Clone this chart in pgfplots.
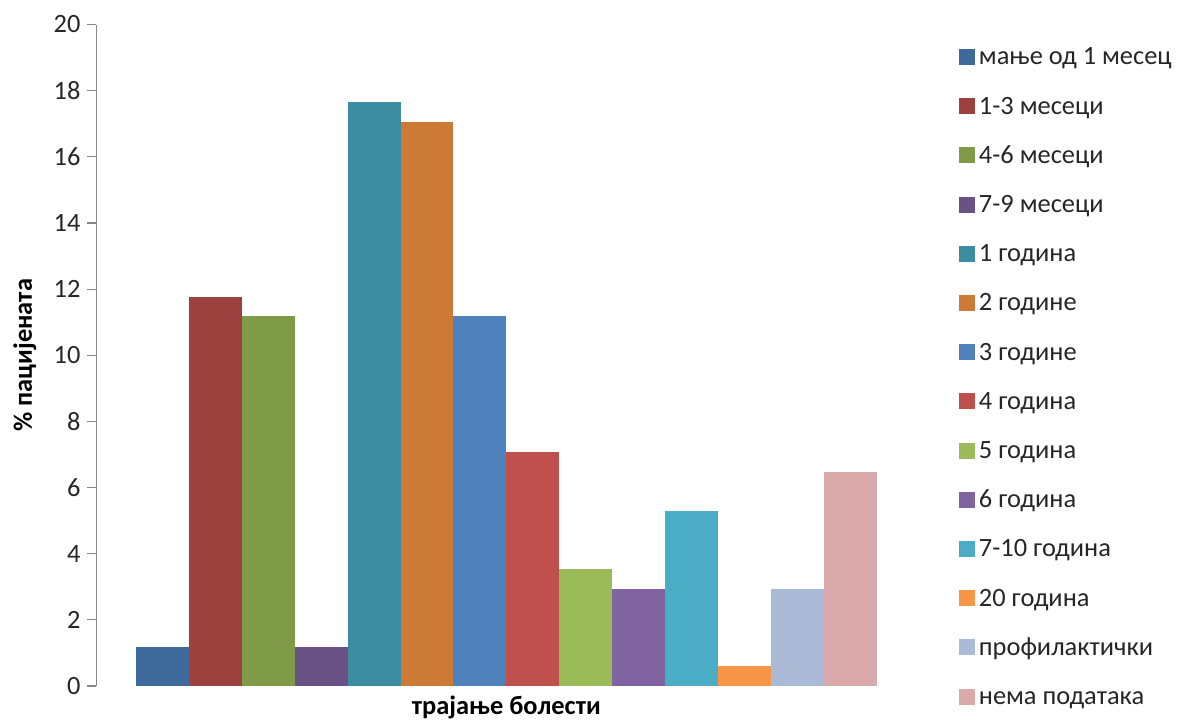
\documentclass[border=0pt]{standalone}
\usepackage{fontspec}
\setmainfont{Carlito}
\usepackage{pgfplots}
\pgfplotsset{compat=1.18}
\definecolor{c1}{HTML}{3D6A9A}
\definecolor{c2}{HTML}{9C413E}
\definecolor{c3}{HTML}{7F9B48}
\definecolor{c4}{HTML}{6A5186}
\definecolor{c5}{HTML}{3C8DA1}
\definecolor{c6}{HTML}{CD7A37}
\definecolor{c7}{HTML}{4F81BD}
\definecolor{c8}{HTML}{C0504D}
\definecolor{c9}{HTML}{9BBB59}
\definecolor{c10}{HTML}{8064A2}
\definecolor{c11}{HTML}{4BACC6}
\definecolor{c12}{HTML}{F79646}
\definecolor{c13}{HTML}{AABAD7}
\definecolor{c14}{HTML}{D9AAA9}
\definecolor{axisgray}{HTML}{868686}
\begin{document}
\begin{tikzpicture}[font=\fontsize{13.2}{15}\selectfont]
\path[use as bounding box] (-48.25pt,-17pt) rectangle (540.75pt,343pt);
\begin{axis}[
  at={(0,0)}, anchor=south west,
  scale only axis, width=409.8pt, height=330.75pt,
  xmin=-1.247, xmax=14.247, ymin=0, ymax=20,
  ytick={0,2,...,20}, xtick=\empty,
  axis lines*=left,
  x axis line style={draw=none},
  y axis line style={draw=axisgray, line width=0.6pt, -},
  ytick style={draw=axisgray, line width=0.6pt},
  major tick length=4.5pt, tick align=outside,
  /pgf/number format/assume math mode=true,
  yticklabel style={font=\fontsize{13.2}{15}\selectfont, text=black!85},
  xlabel={\bfseries трајање болести},
  ylabel={\bfseries \% пацијената},
  every axis x label/.style={at={(axis description cs:0.5,0)}, anchor=base, yshift=-14pt},
  every axis y label/.style={at={(axis description cs:-0.0787,0.5)}, rotate=90, anchor=base},
  legend cell align=left,
  legend image code/.code={\fill[#1,draw=none] (0pt,0pt) rectangle (8pt,8pt);},
  legend style={draw=none, fill=none, at={(1.0523,0.966)}, anchor=north west,
    inner sep=0pt, outer sep=0pt, row sep=12.6pt, column sep=2pt,
    nodes={inner sep=0pt, text height=9pt, text depth=3pt, anchor=base west, text=black!85}},
]
\addplot[ybar, bar width=1, bar shift=0pt, fill=c1, draw=none] coordinates {(0,1.18)};
\addplot[ybar, bar width=1, bar shift=0pt, fill=c2, draw=none] coordinates {(1,11.76)};
\addplot[ybar, bar width=1, bar shift=0pt, fill=c3, draw=none] coordinates {(2,11.18)};
\addplot[ybar, bar width=1, bar shift=0pt, fill=c4, draw=none] coordinates {(3,1.18)};
\addplot[ybar, bar width=1, bar shift=0pt, fill=c5, draw=none] coordinates {(4,17.65)};
\addplot[ybar, bar width=1, bar shift=0pt, fill=c6, draw=none] coordinates {(5,17.06)};
\addplot[ybar, bar width=1, bar shift=0pt, fill=c7, draw=none] coordinates {(6,11.18)};
\addplot[ybar, bar width=1, bar shift=0pt, fill=c8, draw=none] coordinates {(7,7.06)};
\addplot[ybar, bar width=1, bar shift=0pt, fill=c9, draw=none] coordinates {(8,3.53)};
\addplot[ybar, bar width=1, bar shift=0pt, fill=c10, draw=none] coordinates {(9,2.94)};
\addplot[ybar, bar width=1, bar shift=0pt, fill=c11, draw=none] coordinates {(10,5.29)};
\addplot[ybar, bar width=1, bar shift=0pt, fill=c12, draw=none] coordinates {(11,0.59)};
\addplot[ybar, bar width=1, bar shift=0pt, fill=c13, draw=none] coordinates {(12,2.94)};
\addplot[ybar, bar width=1, bar shift=0pt, fill=c14, draw=none] coordinates {(13,6.47)};
\legend{мање од 1 месец, 1-3 месеци, 4-6 месеци, 7-9 месеци, 1 година, 2 године, 3 године, 4 година, 5 година, 6 година, 7-10 година, 20 година, профилактички, нема података}
\end{axis}
\end{tikzpicture}
\end{document}
